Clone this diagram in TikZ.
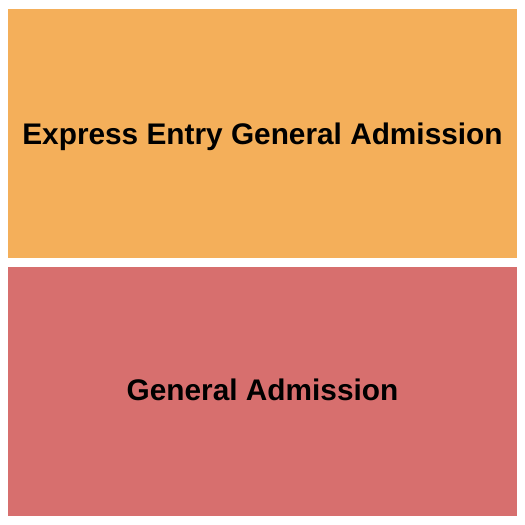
\documentclass[tikz,border=0pt]{standalone}
\usepackage{fontspec}
\setmainfont{Liberation Sans}
\definecolor{expressorange}{HTML}{F4AF5A}
\definecolor{generalpink}{HTML}{D76F6E}
\begin{document}
\begin{tikzpicture}
  [x=1pt,y=-1pt,every node/.style={font=\bfseries\fontsize{29.8}{34}\selectfont, text=black}]
  \useasboundingbox (0,0) rectangle (525,525);
  \fill[expressorange] (8,9) rectangle (517,258);
  \fill[generalpink] (8,267) rectangle (517,516);
  \node (express) at (262.5,137) {Express Entry General Admission};
  \node (general) at (262.5,390) {General Admission};
\end{tikzpicture}
\end{document}
